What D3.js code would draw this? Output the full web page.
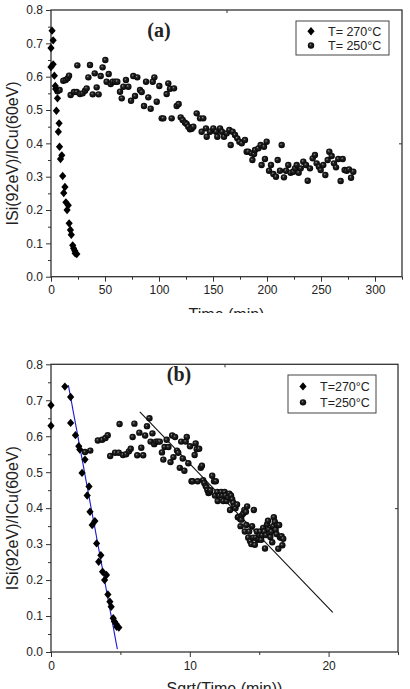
<!DOCTYPE html>
<meta charset="utf-8">
<head>
    <title>ISi/ICu ratio vs time</title>
</head>
<style>
    body { margin: 0; background: #fff; }
    text { font-family: 'Liberation Sans', Arial, sans-serif; fill: #222; }
    .tick text { font-size: 12px; }
    .tick line { stroke: #333; stroke-width: 1; }
    .domain { display: none; }
    .frame { fill: none; stroke: #333; stroke-width: 1.3; }
    .axis_label { font-size: 16px; text-anchor: middle; }
    .panel_tag { font-family: 'Liberation Serif', 'Times New Roman', serif; font-weight: bold; font-size: 20px; text-anchor: middle; }
    .legend_text { font-size: 12.5px; }
    .legend_box { fill: #fff; stroke: #444; stroke-width: 1; }
</style>
<body>
<svg id="chart" width="410" height="689"></svg>
<script src="https://d3js.org/d3.v7.min.js"></script>
<script>
// T = 270 C (diamonds)
const time270 = [0, 0, 1, 2, 2, 3.1, 4, 4.3, 5, 6, 6.8, 7.5, 7.9, 8.8, 10, 10.8, 11.8, 12.9, 13.8, 14.9, 16, 16.8, 18, 18.8, 20.1, 20.9, 22, 22.4, 23.9];
const ratio270 = [0.686, 0.629, 0.738, 0.709, 0.637, 0.603, 0.572, 0.563, 0.498, 0.535, 0.435, 0.46, 0.39, 0.353, 0.364, 0.302, 0.251, 0.269, 0.223, 0.2, 0.214, 0.16, 0.14, 0.126, 0.094, 0.085, 0.078, 0.07, 0.068];

// T = 250 C (spheres)
const time250 = [6, 8, 11.4, 13.6, 15.4, 16.7, 18.2, 21.3, 23.8, 24.4, 26.9, 29.3, 31.5, 33, 34.6, 36.1, 38.6, 40.5, 42.3, 44.1,
    46, 47.8, 50.3, 51.5, 53.4, 55.3, 57.1, 59.3, 61.4, 63.9, 65.5, 67, 69.4, 71.6, 74.1, 76.2, 77.8, 79.9, 82.4, 84,
    86.1, 88, 90.1, 92.3, 94.2, 95.7, 97.9, 100.3, 102.5, 104, 107.1, 108.6, 110.2, 111.7, 113.9, 116.4, 118.2, 120.1, 121.9, 124.1,
    125.6, 127.1, 128.7, 130.3, 131.8, 134.9, 138, 139.5, 141, 143.5, 144.2, 147.2, 150.3, 152.8, 154, 156.5, 158.3, 160.2, 162.7, 165.1,
    166.4, 168.2, 170.4, 172.5, 174.4, 176.6, 179.6, 181.2, 182.7, 185.8, 186.5, 188, 188.9, 192, 194.1, 195, 197.2, 198.1, 199.7, 201.9,
    203.7, 205.9, 208.3, 209.9, 212, 213.6, 215.7, 217.6, 219.7, 221.9, 224.4, 225.9, 227.5, 229.3, 231.2, 233.6, 236.1, 237.7, 239.8, 242.3,
    244.4, 246, 248.1, 249.7, 252.1, 254, 256.2, 257.7, 259.9, 262, 263.9, 266, 268.2, 270.1, 271.9, 273.8, 275.9, 277.8, 279.9];
const ratio250 = [0.556, 0.56, 0.588, 0.59, 0.595, 0.603, 0.545, 0.554, 0.554, 0.634, 0.548, 0.55, 0.558, 0.565, 0.598, 0.635, 0.547, 0.61, 0.568, 0.547,
    0.602, 0.628, 0.65, 0.585, 0.608, 0.578, 0.585, 0.585, 0.585, 0.555, 0.535, 0.57, 0.59, 0.57, 0.528, 0.602, 0.542, 0.598, 0.56, 0.554,
    0.512, 0.585, 0.538, 0.504, 0.585, 0.598, 0.525, 0.572, 0.475, 0.475, 0.548, 0.58, 0.564, 0.475, 0.565, 0.512, 0.518, 0.478, 0.47, 0.462,
    0.458, 0.45, 0.442, 0.444, 0.45, 0.49, 0.475, 0.435, 0.475, 0.445, 0.42, 0.435, 0.445, 0.435, 0.42, 0.445, 0.435, 0.42, 0.43, 0.44,
    0.395, 0.435, 0.425, 0.415, 0.405, 0.4, 0.41, 0.375, 0.375, 0.37, 0.35, 0.368, 0.38, 0.385, 0.395, 0.335, 0.39, 0.353, 0.405, 0.318,
    0.335, 0.308, 0.3, 0.35, 0.318, 0.395, 0.298, 0.318, 0.335, 0.312, 0.315, 0.325, 0.335, 0.312, 0.325, 0.345, 0.335, 0.288, 0.325, 0.355,
    0.365, 0.34, 0.33, 0.32, 0.335, 0.305, 0.35, 0.375, 0.362, 0.34, 0.328, 0.353, 0.287, 0.353, 0.32, 0.318, 0.322, 0.297, 0.315];

// linear fits drawn in panel (b): [sqrt(t), ratio] end points
const fit270 = [[1.25, 0.742], [4.78, 0.008]];
const fit250 = [[6.4, 0.668], [20.3, 0.110]];

const legend270 = ["T= 270°C", "T= 250°C"];
const legend250 = ["T=270°C", "T=250°C"];
const yLabel = "ISi(92eV)/ICu(60eV)";

const chart = d3.select("#chart");

// shaded sphere look for the 250 C markers
const grad = chart.append("defs").append("radialGradient")
    .attr("id", "ball").attr("cx", "50%").attr("cy", "50%").attr("fx", "38%").attr("fy", "35%").attr("r", "55%");
grad.append("stop").attr("offset", "0%").attr("stop-color", "#9a9a9a");
grad.append("stop").attr("offset", "30%").attr("stop-color", "#262626");
grad.append("stop").attr("offset", "100%").attr("stop-color", "#000");

function diamond(w, h) {
    return "M0," + (-h) + "L" + w + ",0L0," + h + "L" + (-w) + ",0Z";
}

function drawPanel(cfg) {
    const g = chart.append("g");
    const x = d3.scaleLinear().domain([0, cfg.xMax]).range([cfg.left, cfg.right]);
    const y = d3.scaleLinear().domain([0, 0.8]).range([cfg.bottom, cfg.top]);

    const xMajor = d3.range(0, cfg.xMax + 0.01, cfg.xStep);
    const xMinor = d3.range(cfg.xStep / 2, cfg.xMax + 0.01, cfg.xStep);
    const yMajor = d3.range(0, 0.81, 0.1);
    const yMinor = d3.range(0.05, 0.8, 0.1);

    g.append("g").attr("transform", "translate(0," + cfg.bottom + ")")
        .call(d3.axisBottom(x).tickValues(xMinor).tickSize(3).tickSizeOuter(0).tickFormat(""));
    g.append("g").attr("transform", "translate(0," + cfg.bottom + ")")
        .call(d3.axisBottom(x).tickValues(xMajor).tickSize(5).tickSizeOuter(0).tickPadding(4).tickFormat(d3.format("d")));
    g.append("g").attr("transform", "translate(" + cfg.left + ",0)")
        .call(d3.axisLeft(y).tickValues(yMinor).tickSize(3).tickSizeOuter(0).tickFormat(""));
    g.append("g").attr("transform", "translate(" + cfg.left + ",0)")
        .call(d3.axisLeft(y).tickValues(yMajor).tickSize(5).tickSizeOuter(0).tickPadding(3).tickFormat(d3.format(".1f")));
    // mirrored mid ticks on top and right
    g.append("g").attr("transform", "translate(0," + cfg.top + ")")
        .call(d3.axisBottom(x).tickValues([cfg.xMax / 2]).tickSize(3).tickSizeOuter(0).tickFormat(""));
    g.append("g").attr("transform", "translate(" + cfg.right + ",0)")
        .call(d3.axisLeft(y).tickValues([0.4]).tickSize(3).tickSizeOuter(0).tickFormat(""));

    g.append("rect").attr("class", "frame")
        .attr("x", cfg.left).attr("y", cfg.top)
        .attr("width", cfg.right - cfg.left).attr("height", cfg.bottom - cfg.top);

    const tx = cfg.xf;

    if (cfg.fits) {
        g.selectAll(".fit").data(cfg.fits).enter().append("line")
            .attr("x1", d => x(d.pts[0][0])).attr("y1", d => y(d.pts[0][1]))
            .attr("x2", d => x(d.pts[1][0])).attr("y2", d => y(d.pts[1][1]))
            .attr("stroke", d => d.color).attr("stroke-width", 1.1);
    }

    g.selectAll(".ball").data(time250).enter().append("circle")
        .attr("cx", d => x(tx(d))).attr("cy", (d, i) => y(ratio250[i]))
        .attr("r", 3.2).attr("fill", "url(#ball)");

    g.selectAll(".dia").data(time270).enter().append("path")
        .attr("transform", (d, i) => "translate(" + x(tx(d)) + "," + y(ratio270[i]) + ")")
        .attr("d", diamond(3.6, 4.2)).attr("fill", "#000");

    // panel tag
    g.append("text").attr("class", "panel_tag")
        .attr("x", cfg.tag.x).attr("y", cfg.tag.y).text(cfg.tag.text);

    // legend
    const lg = g.append("g").attr("transform", "translate(" + cfg.legend.x + "," + cfg.legend.y + ")");
    lg.append("rect").attr("class", "legend_box").attr("width", cfg.legend.w).attr("height", cfg.legend.h);
    const rowY = i => cfg.legend.h * (0.3 + 0.42 * i);
    lg.append("path").attr("transform", "translate(" + cfg.legend.sx + "," + rowY(0) + ")")
        .attr("d", diamond(3.6, 4.2)).attr("fill", "#000");
    lg.append("circle").attr("cx", cfg.legend.sx).attr("cy", rowY(1)).attr("r", 3.2).attr("fill", "url(#ball)");
    lg.selectAll(".legend_text").data(cfg.legend.labels).enter().append("text")
        .attr("class", "legend_text")
        .attr("x", cfg.legend.tx).attr("y", (d, i) => rowY(i) + 4.5)
        .text(d => d);

    // axis labels
    g.append("text").attr("class", "axis_label")
        .attr("transform", "translate(18," + ((cfg.top + cfg.bottom) / 2 + 10) + ")rotate(-90)")
        .text(yLabel);
    g.append("text").attr("class", "axis_label")
        .attr("x", (cfg.left + cfg.right) / 2).attr("y", cfg.xLabelY)
        .text(cfg.xLabel);
    return g;
}

drawPanel({
    left: 51, right: 402, top: 10, bottom: 276.7,
    xMax: 325, xStep: 50, xf: t => t,
    xLabel: "Time (min)", xLabelY: 319.5,
    tag: { text: "(a)", x: 159, y: 37 },
    legend: { x: 296, y: 21, w: 93, h: 34, sx: 15, tx: 32, labels: legend270 }
});

// the source picture is cropped just below the first x label
chart.append("rect").attr("x", 0).attr("y", 313).attr("width", 410).attr("height", 30).attr("fill", "#fff");

drawPanel({
    left: 51, right: 398, top: 364.3, bottom: 652,
    xMax: 25, xStep: 10, xf: t => Math.sqrt(t),
    xLabel: "Sqrt(Time (min))", xLabelY: 694,
    tag: { text: "(b)", x: 179, y: 381 },
    legend: { x: 288, y: 375, w: 88, h: 38, sx: 15, tx: 32, labels: legend250 },
    fits: [{ pts: fit270, color: "#1a1ad0" }, { pts: fit250, color: "#111" }]
});
</script>
</body>
</html>
